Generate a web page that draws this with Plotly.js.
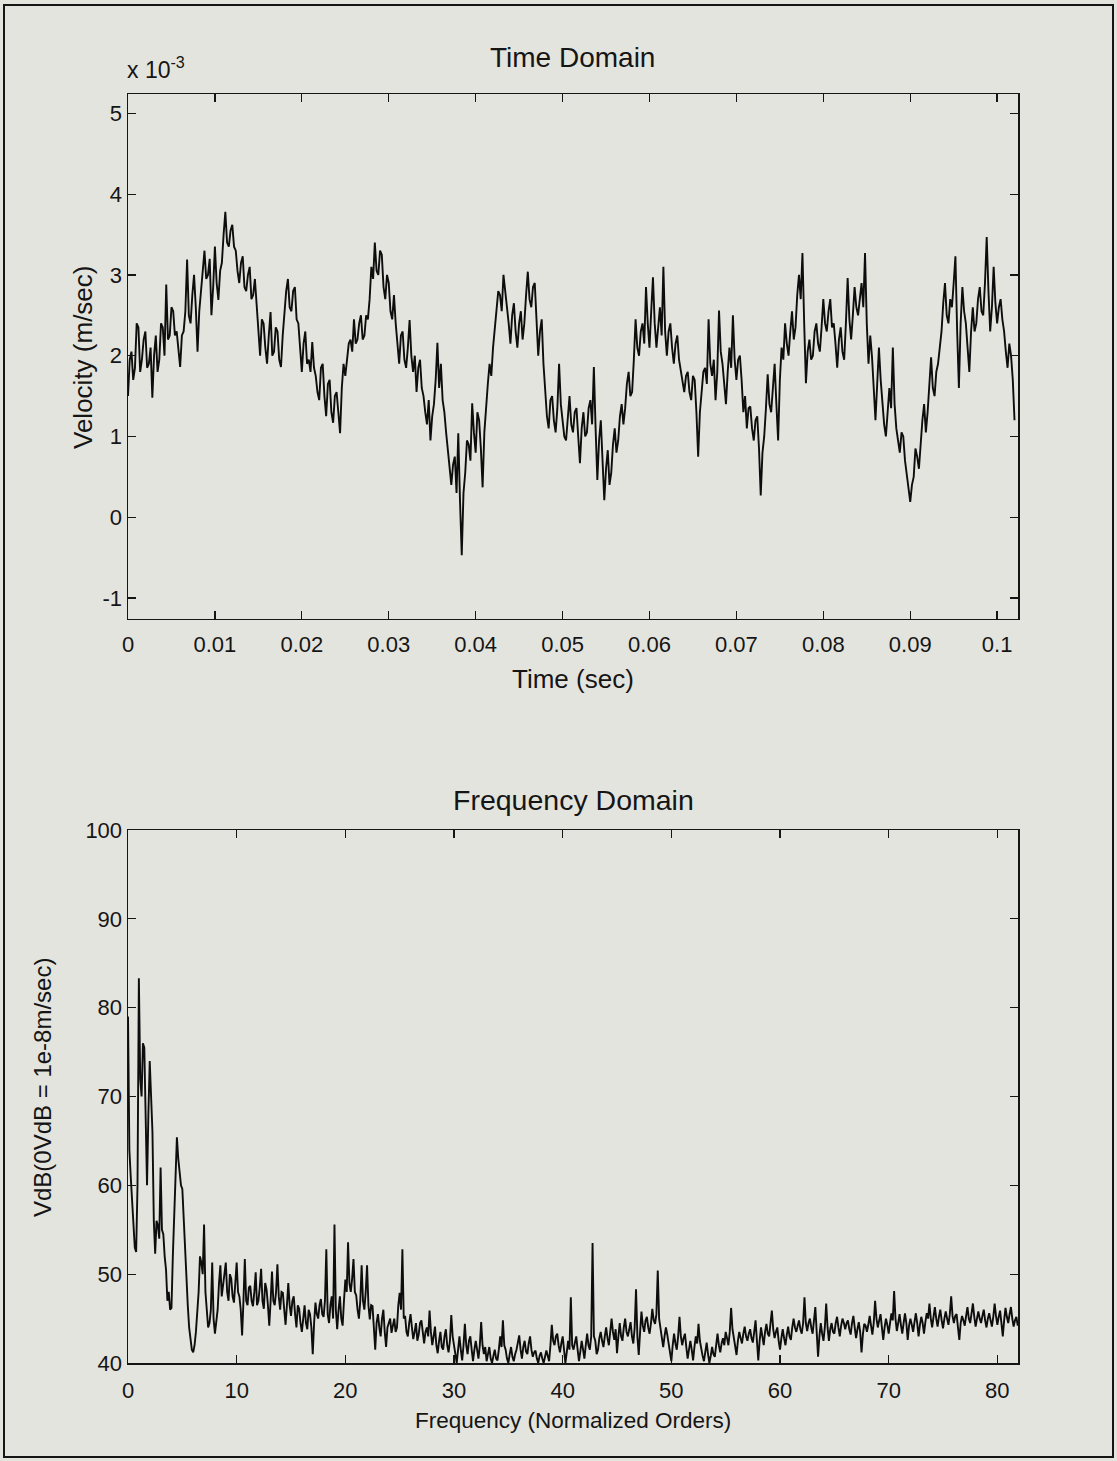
<!DOCTYPE html>
<html>
<head>
<meta charset="utf-8">
<script src="https://cdn.plot.ly/plotly-3.0.1.min.js"></script>
<style>
html,body{margin:0;padding:0;background:#e4e4de;}
#chart{width:1117px;height:1461px;}
</style>
</head>
<body>
<div id="chart"></div>
<script>
// ---------- Time domain: velocity (units of 1e-3 m/sec), one value every 0.2 ms ----------
const timeStepSec = 0.0002;
const velocity_e3 = [
  1.50,1.95,2.05,1.70,1.85,2.40,2.35,1.80,1.95,2.20,2.30,1.85,1.90,2.10,1.48,2.00,2.25,1.80,1.95,2.40,
  2.35,2.00,2.88,2.20,2.25,2.60,2.55,2.25,2.30,2.05,1.86,2.25,2.30,2.55,3.19,2.50,2.40,2.75,3.00,2.60,
  2.05,2.55,2.80,3.15,3.30,2.95,3.00,3.20,2.50,2.85,3.35,2.90,2.69,3.05,3.15,3.50,3.78,3.40,3.35,3.55,
  3.62,3.35,3.30,3.05,2.90,3.15,3.23,2.85,2.80,3.00,3.10,2.70,2.75,2.95,2.60,2.20,2.00,2.45,2.40,2.10,
  1.90,2.25,2.54,2.00,2.05,2.35,2.30,1.95,1.86,2.25,2.60,2.80,2.95,2.60,2.55,2.80,2.85,2.45,2.40,2.10,
  1.80,2.15,2.30,1.90,1.95,1.80,2.17,1.85,1.75,1.55,1.45,1.85,1.90,1.50,1.25,1.65,1.70,1.30,1.17,1.50,
  1.55,1.30,1.04,1.60,1.90,1.75,2.00,2.15,2.20,2.05,2.45,2.15,2.20,2.40,2.50,2.20,2.25,2.50,2.45,2.70,
  3.10,2.95,3.40,3.05,3.00,3.30,3.25,2.85,2.70,3.00,2.90,2.55,2.45,2.75,2.40,2.10,1.90,2.25,2.30,1.95,
  1.85,2.10,2.44,2.00,1.80,2.00,1.55,1.85,1.95,1.60,1.50,1.30,1.15,1.45,0.95,1.25,1.40,1.70,2.16,1.60,
  1.90,1.45,1.30,1.05,0.80,0.55,0.40,0.65,0.75,0.30,1.04,0.20,-0.47,0.30,0.55,0.95,0.90,0.70,1.41,1.05,
  0.80,1.30,1.20,0.85,0.37,1.05,1.40,1.65,1.90,1.75,2.10,2.35,2.50,2.80,2.75,2.55,3.00,2.75,2.60,2.40,
  2.15,2.50,2.65,2.30,2.10,2.40,2.55,2.20,2.40,2.75,3.04,2.70,2.60,2.85,2.90,2.45,2.00,2.30,2.45,1.90,
  1.55,1.25,1.10,1.45,1.50,1.20,1.05,1.35,1.90,1.40,1.20,1.00,0.95,1.30,1.50,1.15,1.05,1.30,1.35,1.00,
  0.67,1.10,1.30,1.00,1.05,1.35,1.45,1.15,1.86,1.10,0.46,0.95,1.20,0.70,0.21,0.60,0.83,0.40,0.55,0.90,
  1.10,0.80,0.95,1.25,1.40,1.15,1.35,1.65,1.80,1.50,1.55,1.95,2.45,2.10,2.00,2.30,2.40,2.15,2.85,2.40,
  2.10,2.55,2.97,2.40,2.10,2.35,2.60,2.25,3.10,2.30,2.00,2.30,2.40,2.10,1.90,2.15,2.25,1.95,1.80,1.70,
  1.55,1.75,1.80,1.55,1.45,1.75,1.70,1.30,0.75,1.30,1.60,1.80,1.85,1.65,2.45,1.90,1.75,1.95,1.45,1.80,
  2.56,2.05,1.90,1.60,1.40,1.80,2.10,1.85,2.50,1.95,1.70,1.95,2.00,1.70,1.30,1.50,1.10,1.35,1.37,1.10,
  0.95,1.20,1.25,0.85,0.27,0.80,1.00,1.35,1.77,1.40,1.30,1.60,1.90,1.40,0.95,1.70,2.10,1.95,2.40,2.15,
  2.00,2.30,2.55,2.20,2.35,2.75,3.00,2.70,3.27,2.40,1.66,2.05,2.20,1.95,2.00,2.30,2.40,2.15,2.05,2.35,
  2.70,2.40,2.30,2.55,2.70,2.35,2.40,2.15,1.85,2.20,2.35,2.05,1.95,2.40,2.96,2.45,2.20,2.50,2.85,2.60,
  2.50,2.70,2.90,2.60,3.27,2.40,1.90,2.25,1.99,1.60,1.20,1.65,2.10,1.70,1.40,1.15,1.00,1.30,1.60,1.35,
  2.10,1.40,1.10,0.95,0.80,1.05,1.00,0.70,0.55,0.35,0.19,0.40,0.50,0.85,0.75,0.60,0.95,1.20,1.40,1.05,
  1.30,1.65,1.98,1.60,1.50,1.80,1.90,2.10,2.30,2.65,2.90,2.50,2.40,2.70,2.60,2.90,3.23,2.30,1.60,2.40,
  2.85,2.55,2.40,2.10,1.80,2.30,2.60,2.30,2.40,2.70,2.85,2.55,2.50,2.90,3.47,2.80,2.30,2.60,3.10,2.65,
  2.40,2.60,2.70,2.45,2.30,2.05,1.85,2.15,2.00,1.70,1.20
];
const timeTicks = [0,0.01,0.02,0.03,0.04,0.05,0.06,0.07,0.08,0.09,0.1];
const timeTickText = ['0','0.01','0.02','0.03','0.04','0.05','0.06','0.07','0.08','0.09','0.1'];
const velTicks = [-1,0,1,2,3,4,5];
const velTickText = ['-1','0','1','2','3','4','5'];

// ---------- Frequency domain: VdB, one value every 0.125 orders ----------
const orderStep = 0.125;
const vdb = [
  79,64,61,58,56,53,52.5,60,83.3,72,70,76,75.5,66,60,68,
  74,70,66,56,52.3,56,55.5,54,62,55,54.5,52,50.5,47,48,46,
  46.2,52,57,62,65.4,63,61,60,59.6,56,53,49,46.5,44,43,41.5,
  41.2,42,43.5,46,48,52,51.3,50,55.6,48,46.2,44,44.5,46,51.3,45,
  43.3,45,46,49,51,47.5,48.7,50,51.3,48,47,50,49.5,47.5,46.8,49,
  51.3,48,47.5,46,43.1,47,51.7,47,46.5,48.5,48.7,47,46.4,48,50.2,46.5,
  47,48.5,50.6,47,46.1,49,48.3,46.5,44.2,47,50.3,47,46.5,48,51.1,47.5,
  46,48,47.9,46,44.3,46.5,49,46.5,45.3,47,47.5,45.5,44,46.5,46.1,44.5,
  43.5,45,46.5,44.5,43.8,46,45.5,44,41,44.5,46.8,45.5,45,46.5,47.2,45.5,
  45.2,47,52.8,45.5,44.5,46.5,47.5,45,55.6,46,43.8,46,47.5,45,44.2,47,
  49.4,48,53.6,49,48,49.5,51.7,48,47.6,46,45,47,51,47,46,48,
  51,46.5,44.9,46.5,46.4,44,41.5,44.5,45.5,44,43,45,46,43.5,41.8,44,
  44.5,45,43.4,44.5,45,43.5,44,46.5,47.9,46,52.8,45,45.3,43.5,43,44.5,
  45.5,44,42.7,43.5,44.5,42.5,43.2,44.5,44.8,43.5,42.2,43.5,44,43,45.9,43.5,
  42,43,44.1,42,41.1,42.5,43.5,41.8,41.5,43,43.8,42,41.2,42.5,45.4,43,
  42,41,40,41.5,43,41.5,40.3,42,44.4,42,41,42.5,43,41.5,40.2,41.5,
  42.5,41.5,40.5,42,44.6,42,41,41.8,40.2,41,41.8,40.5,40,40.8,41.5,40.5,
  40.3,41.5,43,41.8,44.8,42,41.5,40.5,40,41,41.8,40.7,40.2,41,41.5,42.3,
  43.1,41.5,40.5,41.8,42.5,41.3,41,42.2,43,41.5,40.7,41.2,41.4,40.5,40,40.8,
  41.2,40.5,40,40.7,41.4,40.8,40.2,42,44.3,42.5,42,43,43.3,42,41.2,42.2,
  43,41.5,40,41.2,42.5,41.5,47.4,42,41.5,42.3,43,41.5,40.2,41.3,42.5,41.5,
  40.5,42,43.3,42,41.5,43,53.5,43,42.5,41,41.5,42.8,43.5,42.5,41.8,43,
  44,42.8,42,43.5,45,43.5,42.6,43.8,41.1,43,44.5,43,42.5,44,45,43.5,
  43,43.8,44.6,43,42.2,44,48.3,43,40.9,43.5,45.8,44.2,43.5,44.8,45.2,44,
  43.3,44.5,46.1,44.8,44.4,45.5,50.4,45,44,42.8,41.8,43,44,43.2,42.2,41.5,
  40.2,42,43.3,42.2,41.5,43,45.2,43,42,42.8,43.3,41.8,40.5,41.5,42.5,41.5,
  40.3,41.8,43,42.2,44.4,42.5,41.5,40.8,40.2,41.5,42.3,41,40,40.8,41.8,41,
  40.7,42,43.3,42,41.2,42.2,42.8,42,43.5,42.8,42,43.5,46.2,43.8,42.8,42,
  40.9,42.5,43.5,42.8,42.2,43.3,44.1,43,42.5,43.3,43.8,42.8,42.3,43.5,44.8,42.5,
  40.3,42.5,44,43,42,43.5,44.4,43.3,43,44.5,45.9,43.8,42.8,43.5,44,42.5,
  41.5,42.8,43.8,42.8,42,43.2,44.1,43,42.6,44,45,44,43.5,44.2,44.8,43.8,
  43.3,44.5,47.4,44.5,43.6,44.5,45,44,43.3,44.8,46.3,43.5,40.7,43,44.5,43.3,
  42.5,44,46.7,44,42.5,43.8,44.5,43.5,43.3,44.5,45.2,44,43,44.2,45,44.5,
  43.8,44.5,44.8,43.8,43.2,44.5,45.3,44,42.8,43.8,44.6,43.5,41.2,43.2,44.4,44.2,
  43.5,44.3,45.3,44.2,43.2,44.5,47,45,44,44.8,45.5,44,42.6,44,45,44.3,
  43.3,44.5,45.6,44.8,48.1,45,43.6,44.5,45.5,44.3,43.3,44.5,45.6,44.5,42.6,44.2,
  45,44.3,43.5,44.6,45.6,44.5,43,44.3,45.2,44.5,43.3,44.6,45.6,45,46.7,45,
  44,45.2,46.3,45,44.1,45.2,46,44.8,43.9,45,45.8,45,44.3,45.5,47.5,45.3,
  44.5,45.3,45.5,44,42.6,44.5,45.3,44.8,44.2,45.3,46.3,45,44.5,45.6,46.7,45.2,
  44.1,45,45.8,45,44.5,45.3,46,44.8,44,45,45.6,44.8,44.1,45.2,46.7,45.3,
  44.3,45.2,45.9,44.5,43,44.8,46.2,45.2,44.5,45.5,46.3,45,44.1,44.8,45.2,44.2
];
const orderTicks = [0,10,20,30,40,50,60,70,80];
const vdbTicks = [40,50,60,70,80,90,100];

const timeSec = velocity_e3.map((v,i)=>i*timeStepSec);
const orders = vdb.map((v,i)=>i*orderStep);

const FONT = 'Liberation Sans, Arial, Helvetica, sans-serif';
const INK = '#151515';
const BG = '#e4e4de';

const axBase = {
  showgrid:false, zeroline:false, showline:true, linecolor:INK, linewidth:1.5,
  ticks:'inside', ticklen:8, tickwidth:1.3, tickcolor:INK, mirror:'allticks',
  tickfont:{family:FONT, size:22, color:INK}, fixedrange:true
};

const traces = [
  {x:timeSec, y:velocity_e3, xaxis:'x', yaxis:'y', type:'scatter', mode:'lines',
   line:{color:'#0d0d0d', width:1.9}, hoverinfo:'skip'},
  {x:orders, y:vdb, xaxis:'x2', yaxis:'y2', type:'scatter', mode:'lines',
   line:{color:'#0d0d0d', width:1.9}, hoverinfo:'skip'}
];

function px2px(x){return (x-128)/890;}
function py2py(y){return (1363-y)/1269;}

const layout = {
  width:1117, height:1461,
  paper_bgcolor:BG, plot_bgcolor:BG,
  margin:{l:128, r:99, t:94, b:98, pad:0},
  showlegend:false,
  font:{family:FONT, color:INK, size:22},
  xaxis:Object.assign({}, axBase, {domain:[0,1], anchor:'y', range:[0,0.1024],
    tickvals:timeTicks, ticktext:timeTickText, ticklabelstandoff:5}),
  yaxis:Object.assign({}, axBase, {domain:[0.5863,1], anchor:'x', range:[-1.26,5.24],
    tickvals:velTicks, ticktext:velTickText}),
  xaxis2:Object.assign({}, axBase, {domain:[0,1], anchor:'y2', range:[0,81.9],
    tickvals:orderTicks, ticklabelstandoff:7}),
  yaxis2:Object.assign({}, axBase, {domain:[0,0.42], anchor:'x2', range:[40,100],
    tickvals:vdbTicks}),
  annotations:[
    {text:'Time Domain', x:px2px(572), y:py2py(58), xref:'paper', yref:'paper', showarrow:false, xanchor:'center', yanchor:'middle', font:{size:28}},
    {text:'x 10<sup>-3</sup>', x:px2px(125), y:py2py(68), xref:'paper', yref:'paper', showarrow:false, xanchor:'left', yanchor:'middle', font:{size:23}},
    {text:'Time (sec)', x:px2px(573), y:py2py(679), xref:'paper', yref:'paper', showarrow:false, xanchor:'center', yanchor:'middle', font:{size:26}},
    {text:'Velocity (m/sec)', x:px2px(83), y:py2py(357), xref:'paper', yref:'paper', showarrow:false, xanchor:'center', yanchor:'middle', textangle:-90, font:{size:26}},
    {text:'Frequency Domain', x:px2px(573), y:py2py(800), xref:'paper', yref:'paper', showarrow:false, xanchor:'center', yanchor:'middle', font:{size:28.5}},
    {text:'Frequency (Normalized Orders)', x:px2px(573), y:py2py(1420), xref:'paper', yref:'paper', showarrow:false, xanchor:'center', yanchor:'middle', font:{size:22.5}},
    {text:'VdB(0VdB = 1e-8m/sec)', x:px2px(42), y:py2py(1088), xref:'paper', yref:'paper', showarrow:false, xanchor:'center', yanchor:'middle', textangle:-90, font:{size:24}}
  ],
  shapes:[
    {type:'rect', xref:'paper', yref:'paper', x0:px2px(4), x1:px2px(1113), y0:py2py(1457), y1:py2py(5),
     line:{color:INK, width:2}, fillcolor:'rgba(0,0,0,0)', layer:'above'}
  ]
};

Plotly.newPlot('chart', traces, layout, {staticPlot:true, displayModeBar:false});
</script>
</body>
</html>
